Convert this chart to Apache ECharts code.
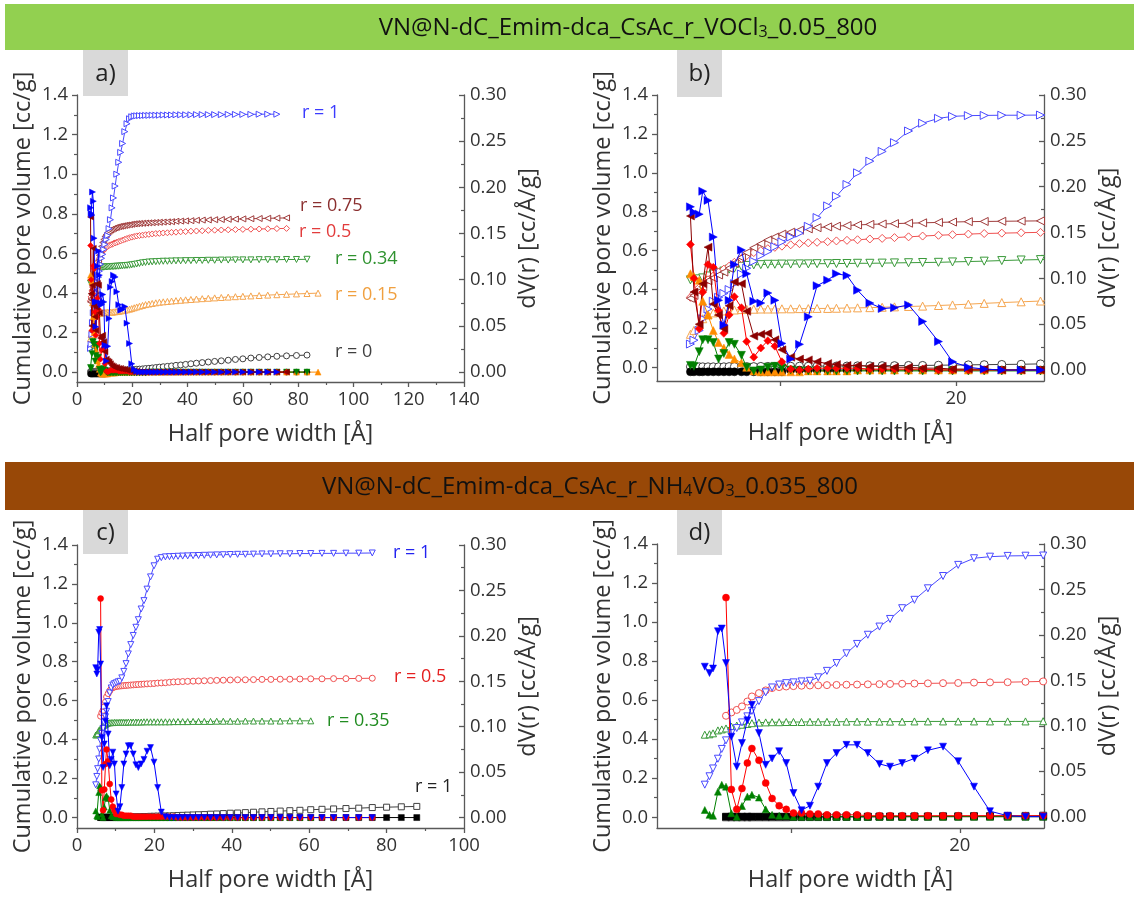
<!DOCTYPE html>
<html><head><meta charset="utf-8">
<script src="https://cdn.jsdelivr.net/npm/echarts@6/dist/echarts.min.js"></script>
<style>html,body{margin:0;padding:0;background:#fff}#c{width:1134px;height:901px}</style>
</head><body><div id="c"></div>
<script>
// ---------- DATA: sample set 1 (VOCl3) ----------
const X1 = [4.9,5.1,5.4,5.6,5.9,6.2,6.5,6.8,7.1,7.4,7.8,8.1,8.5,8.9,9.3,9.7,10.1,10.6,11.1,11.6,12.1,12.7,13.2,13.8,14.4,15.1,15.8,16.5,17.3,18.1,19.0,19.8,20.7,21.6,22.6,23.7,24.8,26.0,27.2,28.5,29.8,31.2,32.7,34.2,35.8,37.5,39.3,41.2,43.2,45.3,47.5,49.8,52.2,54.7,57.3,60.0,62.9,65.9,69.0,72.3,75.8,79.4,83.2,87.2];
const r1_cum = [0.12,0.14,0.19,0.25,0.30,0.34,0.36,0.38,0.40,0.43,0.48,0.51,0.545,0.575,0.595,0.62,0.645,0.67,0.69,0.725,0.77,0.83,0.88,0.94,1.00,1.06,1.11,1.155,1.215,1.255,1.28,1.29,1.294,1.295,1.296,1.296,1.297,1.297,1.298,1.298,1.298,1.299,1.299,1.299,1.300,1.300,1.300,1.300,1.301,1.301,1.301,1.301,1.301,1.302,1.302,1.302,1.302,1.303,1.303,1.303];
const r1_dv = [0.178,0.172,0.170,0.195,0.185,0.145,0.076,0.049,0.076,0.115,0.131,0.105,0.075,0.073,0.084,0.076,0.029,0.012,0.028,0.058,0.092,0.098,0.105,0.103,0.087,0.073,0.067,0.068,0.071,0.053,0.031,0.009,0.003,0.001,0,0,0,0,0,0,0,0,0,0,0,0,0,0,0,0,0,0,0,0,0,0,0,0,0,0];
const r075_cum = [0.355,0.37,0.39,0.415,0.445,0.46,0.475,0.49,0.51,0.535,0.565,0.59,0.615,0.635,0.655,0.67,0.685,0.695,0.705,0.712,0.718,0.722,0.726,0.729,0.732,0.735,0.737,0.739,0.741,0.743,0.745,0.747,0.749,0.75,0.751,0.752,0.753,0.754,0.755,0.756,0.757,0.758,0.759,0.760,0.762,0.763,0.764,0.765,0.767,0.768,0.769,0.770,0.771,0.772,0.773,0.774,0.775,0.776,0.777,0.778,0.779];
const r075_dv = [0.168,0.085,0.050,0.094,0.134,0.072,0.060,0.045,0.070,0.096,0.094,0.064,0.037,0.039,0.040,0.033,0.022,0.014,0.012,0.011,0.009,0.007,0.006,0.005,0.005,0.004,0.004,0.003,0.003,0.002,0.002,0.001,0.001,0.001,0,0,0,0,0,0,0,0,0,0,0,0,0,0,0,0,0,0,0,0,0,0,0,0,0,0,0];
const r05_cum = [0.36,0.38,0.41,0.43,0.45,0.47,0.49,0.505,0.52,0.54,0.56,0.575,0.59,0.60,0.61,0.617,0.623,0.63,0.636,0.64,0.643,0.646,0.65,0.653,0.656,0.66,0.663,0.667,0.671,0.675,0.679,0.682,0.685,0.688,0.69,0.692,0.694,0.696,0.698,0.700,0.701,0.703,0.704,0.706,0.707,0.709,0.710,0.712,0.713,0.714,0.716,0.717,0.718,0.719,0.720,0.721,0.722,0.723,0.724,0.725,0.726];
const r05_dv = [0.137,0.100,0.045,0.085,0.115,0.112,0.065,0.040,0.060,0.080,0.068,0.031,0.014,0.024,0.032,0.026,0.009,0.001,0,0.001,0.002,0.002,0.002,0.002,0.002,0.001,0.001,0.001,0.001,0.001,0,0,0,0,0,0,0,0,0,0,0,0,0,0,0,0,0,0,0,0,0,0,0,0,0,0,0,0,0,0,0];
const r034_cum = [0.45,0.45,0.455,0.46,0.47,0.48,0.487,0.495,0.505,0.51,0.52,0.524,0.527,0.528,0.53,0.53,0.531,0.531,0.532,0.532,0.533,0.533,0.534,0.534,0.535,0.535,0.536,0.537,0.538,0.539,0.54,0.542,0.544,0.546,0.549,0.552,0.554,0.556,0.557,0.558,0.559,0.560,0.560,0.561,0.562,0.562,0.563,0.563,0.564,0.564,0.565,0.565,0.566,0.566,0.567,0.567,0.567,0.568,0.568,0.568,0.569,0.569,0.570];
const r034_dv = [0.005,0.004,0.020,0.033,0.033,0.030,0.012,0.018,0.030,0.028,0.016,0.003,-0.001,0,0.003,0.004,0.002,0,-0.001,-0.001,-0.001,-0.001,-0.001,-0.001,-0.001,-0.001,-0.001,-0.001,-0.001,-0.001,-0.001,-0.001,-0.001,-0.001,-0.001,-0.001,-0.001,0,0,0,0,0,0,0,0,0,0,0,0,0,0,0,0,0,0,0,0,0,0,0,0,0,0];
const r015_cum = [0.17,0.19,0.22,0.25,0.27,0.28,0.285,0.29,0.292,0.295,0.297,0.298,0.299,0.300,0.300,0.300,0.301,0.301,0.302,0.302,0.303,0.303,0.304,0.305,0.306,0.307,0.309,0.311,0.313,0.315,0.318,0.321,0.325,0.329,0.333,0.337,0.341,0.344,0.347,0.350,0.353,0.355,0.357,0.359,0.361,0.363,0.365,0.367,0.369,0.371,0.373,0.375,0.377,0.379,0.381,0.383,0.385,0.387,0.389,0.391,0.393,0.395,0.397,0.399];
const r015_dv = [0.105,0.102,0.098,0.075,0.060,0.043,0.030,0.024,0.017,0.012,0.008,0.003,-0.001,-0.002,-0.002,-0.002,-0.002,-0.002,-0.002,-0.001,-0.001,-0.001,-0.001,-0.001,0,0,0,0,0,0,0,0,0,0,0,0,0,0,0,0,0,0,0,0,0,0,0,0,0,0,0,0,0,0,0,0,0,0,0,0,0,0,0,0];
const r0_cum = [0.003,0.003,0.003,0.003,0.003,0.003,0.003,0.003,0.004,0.004,0.004,0.004,0.004,0.005,0.005,0.005,0.005,0.006,0.006,0.006,0.006,0.007,0.007,0.007,0.008,0.008,0.009,0.009,0.010,0.010,0.011,0.012,0.013,0.014,0.015,0.016,0.018,0.019,0.021,0.023,0.025,0.027,0.029,0.031,0.034,0.036,0.039,0.042,0.045,0.048,0.051,0.054,0.057,0.060,0.064,0.067,0.071,0.074,0.077,0.080,0.082,0.084,0.086];
const r0_dv = [-0.002,-0.002,-0.002,-0.002,-0.002,-0.002,-0.002,-0.002,-0.002,-0.002,-0.002,-0.002,-0.002,-0.002,-0.002,-0.002,-0.002,0,0,0,0,0,0,0,0,0,0,0,0,0,0,0,0,0,0,0,0,0,0,0,0,0,0,0,0,0,0,0,0,0,0,0,0,0,0,0,0,0,0,0,0,0,0];

// ---------- DATA: sample set 2 (NH4VO3) ----------
const X2 = [4.84,5.12,5.33,5.62,5.85,6.1,6.42,6.74,7.05,7.37,7.64,8.06,8.46,8.84,9.26,9.68,10.11,10.59,11.09,11.58,12.1,12.67,13.26,13.89,14.53,15.22,15.85,16.57,17.3,18.1,19.0,19.9,20.84,21.79,22.84,23.9,24.95,26.1,27.3,28.6,30.0,31.4,32.9,34.5,36.1,37.8,39.6,41.5,43.5,45.6,47.8,50.1,52.5,55.0,57.6,60.4,63.3,66.3,69.5,72.8,76.3,80.0,83.8,87.8];
const s1_cum = [0.167,0.21,0.25,0.30,0.35,0.394,0.431,0.457,0.486,0.517,0.545,0.595,0.64,0.665,0.68,0.687,0.691,0.696,0.699,0.717,0.75,0.79,0.84,0.888,0.935,0.977,1.016,1.071,1.114,1.173,1.236,1.293,1.327,1.335,1.339,1.340,1.341,1.342,1.343,1.344,1.345,1.346,1.347,1.348,1.349,1.350,1.351,1.352,1.352,1.353,1.354,1.354,1.355,1.355,1.356,1.356,1.357,1.357,1.358,1.358,1.359];
const s1_dv = [0.165,0.158,0.163,0.204,0.207,0.169,0.088,0.055,0.081,0.106,0.123,0.092,0.057,0.064,0.072,0.059,0.026,0.007,0.012,0.033,0.059,0.070,0.079,0.079,0.070,0.058,0.055,0.059,0.064,0.073,0.077,0.061,0.033,0.006,0.001,0,0,0,0,0,0,0,0,0,0,0,0,0,0,0,0,0,0,0,0,0,0,0,0,0,0];
const s05_cum = [null,null,null,null,null,0.52,0.537,0.55,0.568,0.593,0.619,0.636,0.65,0.662,0.667,0.67,0.672,0.674,0.675,0.676,0.677,0.678,0.679,0.68,0.681,0.682,0.683,0.684,0.685,0.686,0.687,0.688,0.69,0.691,0.692,0.694,0.696,0.697,0.698,0.699,0.700,0.701,0.702,0.703,0.704,0.705,0.706,0.707,0.707,0.708,0.709,0.709,0.710,0.710,0.711,0.712,0.712,0.713,0.713,0.714,0.715];
const s05_dv = [null,null,null,null,null,0.241,0.030,0.008,0.031,0.059,0.075,0.062,0.037,0.020,0.012,0.008,0.004,0.004,0.003,0.003,0.002,0.002,0.002,0.002,0.001,0.001,0.001,0.001,0.001,0.001,0.001,0.001,0.001,0.001,0.001,0.001,0.001,0,0,0,0,0,0,0,0,0,0,0,0,0,0,0,0,0,0,0,0,0,0,0,0];
const s035_cum = [0.423,0.425,0.43,0.445,0.45,0.455,0.465,0.47,0.474,0.478,0.482,0.485,0.486,0.487,0.487,0.488,0.488,0.488,0.489,0.489,0.489,0.489,0.49,0.49,0.49,0.49,0.49,0.49,0.491,0.491,0.491,0.491,0.491,0.491,0.491,0.491,0.492,0.492,0.492,0.492,0.493,0.493,0.493,0.493,0.494,0.494,0.494,0.494,0.495,0.495,0.495,0.495,0.495,0.496,0.496,0.496];
const s035_dv = [0.0073,0.002,0.001,0.0275,0.035,0.033,0.0037,0,0.0117,0.022,0.024,0.021,0.008,0.002,0.001,0.001,0,0,0,0,0,0,0,0,0,0,0,0,0,0,0,0,0,0,0,0,0,0,0,0,0,0,0,0,0,0,0,0,0,0,0,0,0,0,0,0];
const sK_cum = [null,null,null,null,null,0,0,0,0,0,0,0,0,0,0,0,0.001,0.001,0.001,0.001,0.001,0.002,0.002,0.002,0.002,0.003,0.003,0.003,0.004,0.004,0.005,0.005,0.006,0.006,0.007,0.007,0.008,0.009,0.01,0.011,0.012,0.013,0.014,0.016,0.017,0.019,0.021,0.022,0.024,0.026,0.028,0.030,0.032,0.034,0.036,0.039,0.041,0.043,0.045,0.047,0.050,0.052,0.054,0.056];
const sK_dv = [null,null,null,null,null,0,0,0,0,0,0,0,0,0,0,0,0,0,0,0,0,0,0,0,0,0,0,0,0,0,0,0,0,0,0,0,0,0,0,0,0,0,0,0,0,0,0,0,0,0,0,0,0,0,0,0,0,0,0,0,0,0,0,0];

// tick values
const yLeftTicks = [0,0.2,0.4,0.6,0.8,1.0,1.2,1.4];
const yLeftMinor = [0.1,0.3,0.5,0.7,0.9,1.1,1.3];
const yRightTicks = [0,0.05,0.10,0.15,0.20,0.25,0.30];
const yRightMinor = [0.025,0.075,0.125,0.175,0.225,0.275];
const xTicksA = [0,20,40,60,80,100,120,140];
const xMinorA = [10,30,50,70,90,110,130];
const xTicksC = [0,20,40,60,80,100];
const xMinorC = [10,30,50,70,90];
const xTicksZoom = [10,20];
const xLabelsZoom = [20];

// ---------- build ----------
const FF = 'Open Sans';
const AX = '#595959', TX = '#333333';
const grids = [], xAxes = [], yAxes = [], series = [];

function pairs(x, ys){ const out=[]; ys.forEach((v,i)=>{ if(v!==null && v!==undefined) out.push([x[i],v]); }); return out; }

function addPanel(p){
  const g = grids.length;
  grids.push({left:p.l, top:p.t, width:p.w, height:p.h});
  const xi = xAxes.length;
  xAxes.push({gridIndex:g, type:'value', position:'bottom', min:p.xr[0], max:p.xr[1],
    axisLine:{show:true, onZero:false, lineStyle:{color:AX, width:1.3}},
    axisTick:{show:true, length:5, customValues:p.xt, lineStyle:{color:AX, width:1.3}},
    axisLabel:{show:true, customValues:p.xl, margin:8, fontSize:18.5, color:TX, fontFamily:FF},
    splitLine:{show:false},
    name:'Half pore width [Å]', nameLocation:'middle', nameGap:40,
    nameTextStyle:{fontSize:23.5, color:TX, fontFamily:FF}});
  if(p.xm){
    xAxes.push({gridIndex:g, type:'value', position:'bottom', min:p.xr[0], max:p.xr[1],
      axisLine:{show:false, onZero:false}, axisTick:{show:true, length:3, customValues:p.xm, lineStyle:{color:AX, width:1.2}},
      axisLabel:{show:false}, splitLine:{show:false}});
  }
  const yl = yAxes.length;
  yAxes.push({gridIndex:g, type:'value', position:'left', min:p.ylMin, max:1.4,
    axisLine:{show:true, onZero:false, lineStyle:{color:AX, width:1.3}},
    axisTick:{show:true, length:5, customValues:yLeftTicks, lineStyle:{color:AX, width:1.3}},
    axisLabel:{show:true, customValues:yLeftTicks, margin:9, fontSize:18.5, color:TX, fontFamily:FF, formatter:v=>v.toFixed(1)},
    splitLine:{show:false},
    name:'Cumulative pore volume [cc/g]', nameLocation:'middle', nameGap:42, nameRotate:90,
    nameTextStyle:{fontSize:23.5, color:TX, fontFamily:FF}});
  yAxes.push({gridIndex:g, type:'value', position:'left', min:p.ylMin, max:1.4,
    axisLine:{show:false, onZero:false}, axisTick:{show:true, length:3, customValues:yLeftMinor, lineStyle:{color:AX, width:1.2}},
    axisLabel:{show:false}, splitLine:{show:false}});
  const yr = yAxes.length;
  yAxes.push({gridIndex:g, type:'value', position:'right', min:p.yrMin, max:0.30,
    axisLine:{show:true, onZero:false, lineStyle:{color:AX, width:1.3}},
    axisTick:{show:true, inside:true, length:5, customValues:yRightTicks, lineStyle:{color:AX, width:1.3}},
    axisLabel:{show:true, customValues:yRightTicks, margin:6, fontSize:18.5, color:TX, fontFamily:FF, formatter:v=>v.toFixed(2)},
    splitLine:{show:false},
    name:'dV(r) [cc/Å/g]', nameLocation:'middle', nameGap:52, nameRotate:90,
    nameTextStyle:{fontSize:23.5, color:TX, fontFamily:FF}});
  yAxes.push({gridIndex:g, type:'value', position:'right', min:p.yrMin, max:0.30,
    axisLine:{show:false, onZero:false}, axisTick:{show:true, inside:true, length:3, customValues:yRightMinor, lineStyle:{color:AX, width:1.2}},
    axisLabel:{show:false}, splitLine:{show:false}});
  p.series.forEach(s=>{
    series.push({type:'line', xAxisIndex:xi, yAxisIndex: s.right ? yr : yl,
      data: pairs(s.x, s.y), symbol:s.sym, symbolSize:p.ms, symbolRotate:s.rot||0, showAllSymbol:true,
      lineStyle:{width:1, color:s.c}, itemStyle:{color: s.open ? '#ffffff' : s.c, borderColor:s.c, borderWidth: s.open ? 1 : 0.5},
      emphasis:{disabled:true}, silent:true, animation:false, clip:true, z: s.open ? 2 : 3});
  });
}

const set1 = (x) => [
  {x, y:r0_cum, sym:'circle', c:'#404040', open:true},
  {x, y:r015_cum, sym:'triangle', c:'#f5a54f', open:true},
  {x, y:r034_cum, sym:'triangle', rot:180, c:'#3a9a3a', open:true},
  {x, y:r05_cum, sym:'diamond', c:'#f05050', open:true},
  {x, y:r075_cum, sym:'triangle', rot:90, c:'#a03c3c', open:true},
  {x, y:r1_cum, sym:'triangle', rot:-90, c:'#4a4aff', open:true},
  {x, y:r0_dv, sym:'circle', c:'#000000', right:true},
  {x, y:r015_dv, sym:'triangle', c:'#ff8c00', right:true},
  {x, y:r034_dv, sym:'triangle', rot:180, c:'#008000', right:true},
  {x, y:r05_dv, sym:'diamond', c:'#ff0000', right:true},
  {x, y:r075_dv, sym:'triangle', rot:90, c:'#8b0000', right:true},
  {x, y:r1_dv, sym:'triangle', rot:-90, c:'#0000ff', right:true}
];
const set2 = (x) => [
  {x, y:sK_cum, sym:'rect', c:'#404040', open:true},
  {x, y:s035_cum, sym:'triangle', c:'#3a9a3a', open:true},
  {x, y:s05_cum, sym:'circle', c:'#f05050', open:true},
  {x, y:s1_cum, sym:'triangle', rot:180, c:'#4a4aff', open:true},
  {x, y:sK_dv, sym:'rect', c:'#000000', right:true},
  {x, y:s035_dv, sym:'triangle', c:'#008000', right:true},
  {x, y:s05_dv, sym:'circle', c:'#ff0000', right:true},
  {x, y:s1_dv, sym:'triangle', rot:180, c:'#0000ff', right:true}
];

addPanel({l:77, t:95, w:387, h:287, xr:[0,140], xt:xTicksA, xl:xTicksA, xm:xMinorA, ylMin:-0.05, yrMin:-0.0107, ms:6, series:set1(X1)});
addPanel({l:657, t:95, w:387, h:286, xr:[3,25], xt:xTicksZoom, xl:xLabelsZoom, ylMin:-0.07, yrMin:-0.012, ms:8, series:set1(X1)});
addPanel({l:77, t:545, w:387, h:283, xr:[0,100], xt:xTicksC, xl:xTicksC, xm:xMinorC, ylMin:-0.055, yrMin:-0.0115, ms:6, series:set2(X2)});
addPanel({l:657, t:544, w:387, h:284, xr:[2,25], xt:xTicksZoom, xl:xLabelsZoom, ylMin:-0.055, yrMin:-0.0125, ms:7, series:set2(X2)});

// annotations [text, color, x, y]
const notes = [
  ['r = 1','#3b3bff',302,113], ['r = 0.75','#8b3030',300,206], ['r = 0.5','#e23c3c',299,232],
  ['r = 0.34','#2e922e',335,259], ['r = 0.15','#f0a040',335,295], ['r = 0','#404040',335,352],
  ['r = 1','#2323f0',393,553], ['r = 0.5','#e52020',394,677], ['r = 0.35','#218c21',327,721], ['r = 1','#222222',415,787]
];
const boxes = [['a)',83,50,45,46],['b)',677,50,45,47],['c)',83,510,45,44],['d)',677,510,45,45]];

const graphic = [
  {type:'rect', shape:{x:5,y:4,width:1129,height:46}, style:{fill:'#92d050'}, silent:true},
  {type:'text', x:628, y:28, style:{text:'VN@N-dC_Emim-dca_CsAc_r_VOCl{s|3}_0.05_800', fill:'#111', fontSize:24, fontFamily:FF, align:'center', verticalAlign:'middle',
     rich:{s:{fontSize:16, lineHeight:14, verticalAlign:'bottom', fill:'#111', fontFamily:FF}}}, silent:true},
  {type:'rect', shape:{x:5,y:462,width:1129,height:48}, style:{fill:'#984807'}, silent:true},
  {type:'text', x:590, y:487, style:{text:'VN@N-dC_Emim-dca_CsAc_r_NH{s|4}VO{s|3}_0.035_800', fill:'#111', fontSize:24, fontFamily:FF, align:'center', verticalAlign:'middle',
     rich:{s:{fontSize:16, lineHeight:14, verticalAlign:'bottom', fill:'#111', fontFamily:FF}}}, silent:true}
];
boxes.forEach(b=>{
  graphic.push({type:'rect', shape:{x:b[1],y:b[2],width:b[3],height:b[4]}, style:{fill:'#d9d9d9'}, silent:true});
  graphic.push({type:'text', x:b[1]+b[3]/2, y:b[2]+b[4]/2+1, style:{text:b[0], fill:'#222', fontSize:24, fontFamily:FF, align:'center', verticalAlign:'middle'}, silent:true});
});
notes.forEach(n=>{
  graphic.push({type:'text', x:n[2], y:n[3], style:{text:n[0], fill:n[1], fontSize:18, fontFamily:FF, align:'left', verticalAlign:'middle'}, silent:true});
});

const chart = echarts.init(document.getElementById('c'), null, {width:1134, height:901});
chart.setOption({backgroundColor:'#ffffff', animation:false, grid:grids, xAxis:xAxes, yAxis:yAxes, series:series, graphic:graphic});
</script>
</body></html>
